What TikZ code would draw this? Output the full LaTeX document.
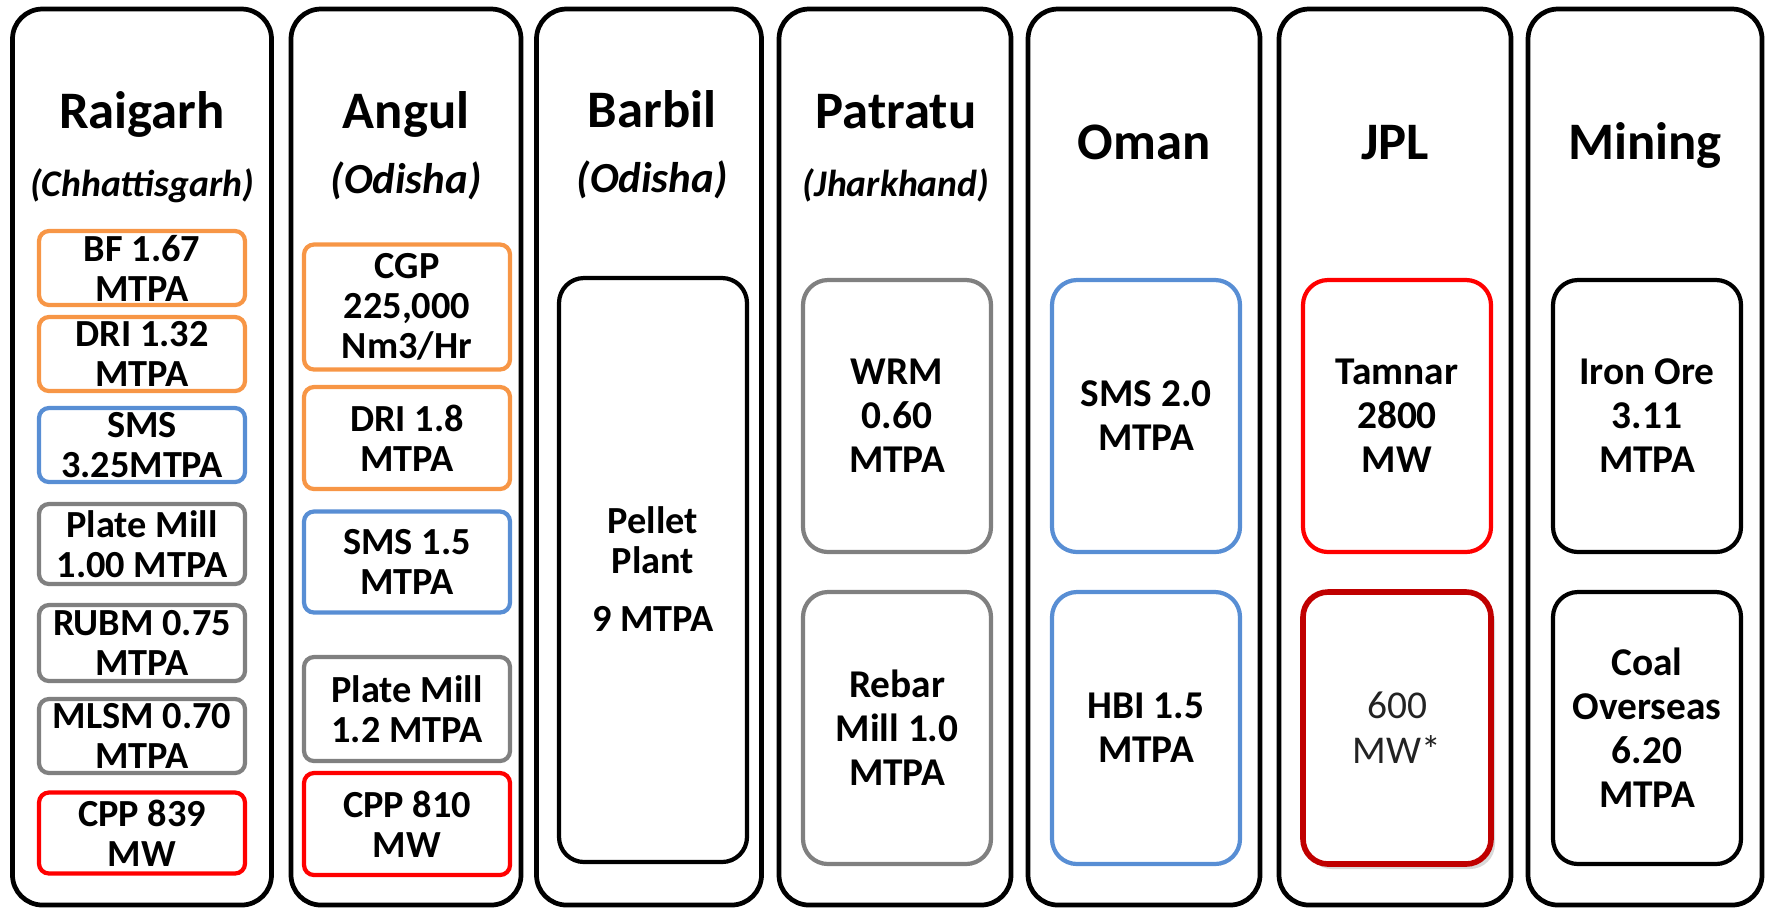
\documentclass[tikz,border=0pt]{standalone}
\usepackage{fontspec}
\setmainfont{Carlito}
\usetikzlibrary{shadows}

\definecolor{unitorange}{RGB}{247,150,70}
\definecolor{unitblue}{RGB}{88,142,212}
\definecolor{unitgray}{RGB}{128,128,128}
\definecolor{unitred}{RGB}{255,0,0}
\definecolor{unitdarkred}{RGB}{192,0,0}
\definecolor{softtext}{RGB}{35,35,35}

\newcommand{\sitefont}{\fontsize{15}{18}\selectfont\bfseries}
\newcommand{\statefont}{\fontsize{10.7}{13}\selectfont\bfseries\itshape}
\newcommand{\statebigfont}{\fontsize{12.2}{14}\selectfont\bfseries\itshape}
\newcommand{\plantfont}{\fontsize{10.9}{11.4}\selectfont\bfseries}
\newcommand{\bigplantfont}{\fontsize{11.2}{12.5}\selectfont\bfseries}

\tikzset{
  site/.style={draw, line width=1.35pt, rounded corners=0.3cm, minimum height=8.96cm},
  sitename/.style={font=\sitefont, anchor=base, inner sep=0pt},
  statename/.style={font=\statefont, anchor=base, inner sep=0pt},
  plantbox/.style={draw, line width=1.2pt, rounded corners=0.1cm, minimum width=2.06cm,
    align=center, font=\plantfont, inner sep=0pt},
  bigbox/.style={draw, line width=1.2pt, rounded corners=0.25cm, minimum width=1.88cm,
    minimum height=2.72cm, align=center, font=\bigplantfont, inner sep=0pt},
}

\begin{document}
\begin{tikzpicture}
    \useasboundingbox (0,0) rectangle (17.67,-9.08);

    \node[site, minimum width=2.59cm] (raigarh) at (1.42,-4.57) {};
    \node[site, minimum width=2.30cm] (angul) at (4.06,-4.57) {};
    \node[site, minimum width=2.25cm] (barbil) at (6.49,-4.57) {};
    \node[site, minimum width=2.32cm] (patratu) at (8.95,-4.57) {};
    \node[site, minimum width=2.32cm] (oman) at (11.44,-4.57) {};
    \node[site, minimum width=2.32cm] (jpl) at (13.95,-4.57) {};
    \node[site, minimum width=2.34cm] (mining) at (16.45,-4.57) {};

    \node[sitename] (raigarhname) at (1.42,-1.28) {Raigarh};
    \node[sitename] (angulname) at (4.06,-1.28) {Angul};
    \node[sitename] (barbilname) at (6.52,-1.27) {Barbil};
    \node[sitename] (patratuname) at (8.96,-1.28) {Patratu};
    \node[sitename] (omanname) at (11.44,-1.59) {Oman};
    \node[sitename] (jplname) at (13.95,-1.59) {JPL};
    \node[sitename] (miningname) at (16.45,-1.59) {Mining};

    \node[statename] (raigarhstate) at (1.42,-1.96) {(Chhattisgarh)};
    \node[statename, font=\statebigfont] (angulstate) at (4.06,-1.93) {(Odisha)};
    \node[statename, font=\statebigfont] (barbilstate) at (6.52,-1.92) {(Odisha)};
    \node[statename] (patratustate) at (8.96,-1.96) {(Jharkhand)};

    \node[plantbox, draw=unitorange, minimum height=0.74cm] (bf) at (1.42,-2.68) {BF 1.67\\MTPA};
    \node[plantbox, draw=unitorange, minimum height=0.74cm] (dri) at (1.42,-3.54) {DRI 1.32\\MTPA};
    \node[plantbox, draw=unitblue, minimum height=0.74cm] (sms) at (1.42,-4.45) {SMS\\3.25MTPA};
    \node[plantbox, draw=unitgray, minimum height=0.80cm] (platemill) at (1.42,-5.44) {Plate Mill\\1.00 MTPA};
    \node[plantbox, draw=unitgray, minimum height=0.76cm] (rubm) at (1.42,-6.43) {RUBM 0.75\\MTPA};
    \node[plantbox, draw=unitgray, minimum height=0.74cm] (mlsm) at (1.42,-7.36) {MLSM 0.70\\MTPA};
    \node[plantbox, draw=unitred, minimum height=0.81cm] (cpp) at (1.42,-8.33) {CPP 839\\MW};

    \node[plantbox, draw=unitorange, minimum height=1.25cm] (cgp) at (4.07,-3.07) {CGP\\225,000\\Nm3/Hr};
    \node[plantbox, draw=unitorange, minimum height=1.02cm] (angdri) at (4.07,-4.38) {DRI 1.8\\MTPA};
    \node[plantbox, draw=unitblue, minimum height=1.01cm] (angsms) at (4.07,-5.62) {SMS 1.5\\MTPA};
    \node[plantbox, draw=unitgray, minimum height=1.04cm] (angplate) at (4.07,-7.09) {Plate Mill\\1.2 MTPA};
    \node[plantbox, draw=unitred, minimum height=1.02cm] (angcpp) at (4.07,-8.24) {CPP 810\\MW};

    \node[bigbox, minimum height=5.84cm] (pellet) at (6.53,-5.70) {};
    \node[font=\plantfont, align=center] (pellettext) at (6.53,-5.69) {Pellet\\Plant\\[0.18cm]9 MTPA};

    \node[bigbox, draw=unitgray] (wrm) at (8.97,-4.16) {WRM\\0.60\\MTPA};
    \node[bigbox, draw=unitgray] (rebar) at (8.97,-7.28) {Rebar\\Mill 1.0\\MTPA};

    \node[bigbox, draw=unitblue] (omansms) at (11.46,-4.16) {SMS 2.0\\MTPA};
    \node[bigbox, draw=unitblue] (hbi) at (11.46,-7.28) {HBI 1.5\\MTPA};

    \node[bigbox, draw=unitred] (tamnar) at (13.97,-4.16) {Tamnar\\2800\\MW};
    \node[bigbox, draw=unitdarkred, line width=1.6pt, fill=white, text=softtext,
      font=\fontsize{11.2}{12.8}\selectfont,
      drop shadow={opacity=0.3, shadow xshift=0.04cm, shadow yshift=-0.05cm}] (sixhundred) at (13.97,-7.28) {600\\MW*};

    \node[bigbox] (ironore) at (16.47,-4.16) {Iron Ore\\3.11\\MTPA};
    \node[bigbox] (coal) at (16.47,-7.28) {Coal\\Overseas\\6.20\\MTPA};
\end{tikzpicture}
\end{document}
